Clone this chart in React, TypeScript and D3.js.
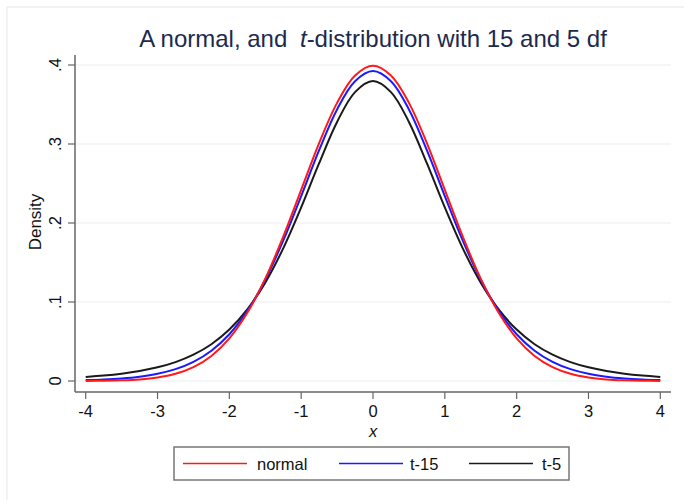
import React from "react";
import * as d3 from "d3";

const xValues = [-4, -3.75, -3.5, -3.25, -3, -2.75, -2.5, -2.25, -2, -1.75, -1.5, -1.25, -1, -0.75, -0.5, -0.25, 0, 0.25, 0.5, 0.75, 1, 1.25, 1.5, 1.75, 2, 2.25, 2.5, 2.75, 3, 3.25, 3.5, 3.75, 4];

const normalDensity = [0.00013, 0.00035, 0.00087, 0.00203, 0.00443, 0.00909, 0.01753, 0.03174, 0.05399, 0.08628, 0.12952, 0.18265, 0.24197, 0.30114, 0.35207, 0.38667, 0.39894, 0.38667, 0.35207, 0.30114, 0.24197, 0.18265, 0.12952, 0.08628, 0.05399, 0.03174, 0.01753, 0.00909, 0.00443, 0.00203, 0.00087, 0.00035, 0.00013];

const t15Density = [0.00118, 0.00198, 0.00331, 0.00552, 0.00914, 0.01497, 0.02418, 0.03831, 0.05921, 0.08875, 0.12826, 0.17759, 0.23413, 0.29227, 0.34376, 0.37952, 0.39236, 0.37952, 0.34376, 0.29227, 0.23413, 0.17759, 0.12826, 0.08875, 0.05921, 0.03831, 0.02418, 0.01497, 0.00914, 0.00552, 0.00331, 0.00198, 0.00118];

const t5Density = [0.00512, 0.00685, 0.00924, 0.01259, 0.01729, 0.02393, 0.03333, 0.04657, 0.06509, 0.09054, 0.12452, 0.16789, 0.21968, 0.2757, 0.32792, 0.36572, 0.37961, 0.36572, 0.32792, 0.2757, 0.21968, 0.16789, 0.12452, 0.09054, 0.06509, 0.04657, 0.03333, 0.02393, 0.01729, 0.01259, 0.00924, 0.00685, 0.00512];

const xTicks = [-4, -3, -2, -1, 0, 1, 2, 3, 4];
const yTicks = [0, 0.1, 0.2, 0.3, 0.4];
const yTickLabels = ["0", ".1", ".2", ".3", ".4"];

const seriesNames = ["normal", "t-15", "t-5"];
const seriesColors = ["#ff1a1a", "#1a1aff", "#1a1a1a"];

const FONT = "'Liberation Sans', Arial, Helvetica, sans-serif";

export default function App() {
  const W = 684;
  const H = 500;
  const x = d3.scaleLinear().domain([-4, 4]).range([85.7, 660.3]);
  const y = d3.scaleLinear().domain([0, 0.4]).range([381, 65]);
  const axisLeftX = 75;
  const axisRightX = 671;
  const axisBottomY = 392;
  const axisTopY = 55;

  const allSeries = [normalDensity, t15Density, t5Density];
  const line = d3
    .line<number>()
    .x((_, i) => x(xValues[i]))
    .y((d) => y(d))
    .curve(d3.curveCatmullRom.alpha(0.5));

  const legendX = 174;
  const legendY = 447;
  const legendW = 395;
  const legendH = 33;
  const legendItems = [
    { lx: 183, tx: 257 },
    { lx: 339, tx: 410 },
    { lx: 469, tx: 542 },
  ];

  return (
    <svg
      width={W}
      height={H}
      style={{ position: "absolute", left: 0, top: 0, background: "#fff" }}
      fontFamily={FONT}
    >
      <rect x={0} y={0} width={W} height={H} fill="#fff" />
      <rect x={7} y={7} width={W + 10} height={H + 10} fill="#fff" stroke="#e6e9ea" strokeWidth={1} />

      {/* gridlines */}
      {yTicks.map((t) => (
        <line key={"g" + t} x1={axisLeftX} x2={axisRightX} y1={y(t)} y2={y(t)} stroke="#e9eff0" strokeWidth={1.2} />
      ))}

      {/* title */}
      <text x={373} y={46.5} textAnchor="middle" fontSize={24} fill="#1c2a4e" xmlSpace="preserve">
        <tspan>A normal, and </tspan>
        <tspan fontStyle="italic" dx={6}>t</tspan>
        <tspan>-distribution with 15 and 5 df</tspan>
      </text>

      {/* y axis */}
      <line x1={axisLeftX} x2={axisLeftX} y1={axisTopY} y2={axisBottomY} stroke="#666" strokeWidth={1.5} />
      {yTicks.map((t, i) => (
        <g key={"yt" + t}>
          <line x1={68} x2={axisLeftX} y1={y(t)} y2={y(t)} stroke="#666" strokeWidth={1.2} />
          <text
            transform={`translate(${61},${y(t)}) rotate(-90)`}
            textAnchor="middle"
            fontSize={16.5}
            fill="#111"
          >
            {yTickLabels[i]}
          </text>
        </g>
      ))}
      <text transform={`translate(41,222) rotate(-90)`} textAnchor="middle" fontSize={17} fill="#111">
        Density
      </text>

      {/* x axis */}
      <line x1={axisLeftX} x2={axisRightX} y1={axisBottomY} y2={axisBottomY} stroke="#666" strokeWidth={1.5} />
      {xTicks.map((t) => (
        <g key={"xt" + t}>
          <line x1={x(t)} x2={x(t)} y1={axisBottomY} y2={axisBottomY + 7} stroke="#666" strokeWidth={1.2} />
          <text x={x(t)} y={417} textAnchor="middle" fontSize={16.5} fill="#111">
            {t}
          </text>
        </g>
      ))}
      <text x={373} y={437} textAnchor="middle" fontSize={16.5} fontStyle="italic" fill="#111">
        x
      </text>

      {/* curves */}
      {allSeries
        .map((s, i) => ({ s, i }))
        .reverse()
        .map(({ s, i }) => (
          <path key={"c" + i} d={line(s) || ""} fill="none" stroke={seriesColors[i]} strokeWidth={2} />
        ))}

      {/* legend */}
      <rect x={legendX} y={legendY} width={legendW} height={legendH} fill="#fff" stroke="#777" strokeWidth={1.5} />
      {seriesNames.map((n, i) => (
        <g key={"l" + n}>
          <line
            x1={legendItems[i].lx}
            x2={legendItems[i].lx + 64}
            y1={legendY + legendH / 2}
            y2={legendY + legendH / 2}
            stroke={seriesColors[i]}
            strokeWidth={1.5}
          />
          <text x={legendItems[i].tx} y={legendY + legendH / 2 + 6} fontSize={16.5} fill="#111">
            {n}
          </text>
        </g>
      ))}
    </svg>
  );
}
